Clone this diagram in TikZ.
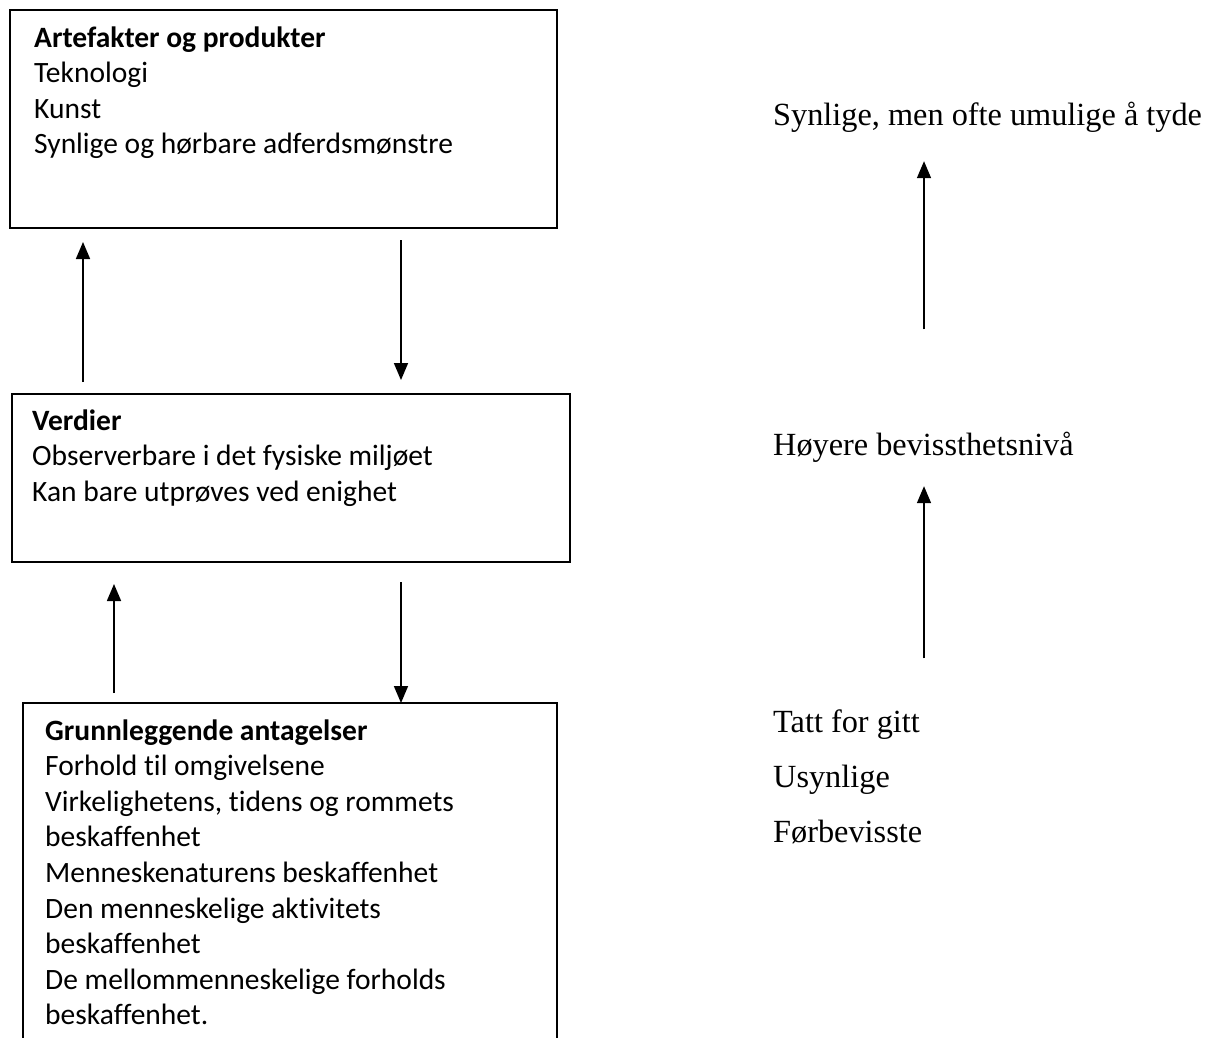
\documentclass[tikz,border=0pt]{standalone}
\usepackage{fontspec}
\setmainfont{Liberation Serif}
\newfontfamily\carlito[Ligatures={NoCommon}]{Carlito}
\usetikzlibrary{arrows.meta,calc}
\tikzset{
  frame/.style={draw, line width=2pt, inner sep=0pt, anchor=north west},
  boxtext/.style={inner sep=0pt, anchor=base west, font=\carlito\fontsize{29.5}{35.6}\selectfont},
  sidetext/.style={inner sep=0pt, anchor=base west, font=\fontsize{32.3}{55}\selectfont},
  arr/.style={line width=1.6pt, -{Triangle[width=14pt,length=17pt]}}
}
\begin{document}
\begin{tikzpicture}[x=1pt,y=-1pt]
\useasboundingbox (0,0) rectangle (1213,1037);
\fill[white] (0,0) rectangle (1213,1037);
\clip (0,0) rectangle (1213,1037);
% boxes
\node[frame, minimum width=547pt, minimum height=218pt] (box1) at (9,9) {};
\node[frame, minimum width=558pt, minimum height=168pt] (box2) at (11,393) {};
\node[inner sep=0pt, anchor=north west, minimum width=534pt, minimum height=400pt] (box3) at (23,703) {};
\draw[line width=2pt] (box3.south west) -- (box3.north west) -- (box3.north east) -- (box3.south east);
% box texts
\node[boxtext] (t1) at (34,47) {\begin{tabular}[t]{@{}l@{}}\textbf{Artefakter og produkter}\\Teknologi\\Kunst\\Synlige og hørbare adferdsmønstre\end{tabular}};
\node[boxtext] (t2) at (32,430) {\begin{tabular}[t]{@{}l@{}}\textbf{Verdier}\\Observerbare i det fysiske miljøet\\Kan bare utprøves ved enighet\end{tabular}};
\node[boxtext] (t3) at (45,740) {\begin{tabular}[t]{@{}l@{}}\textbf{Grunnleggende antagelser}\\Forhold til omgivelsene\\Virkelighetens, tidens og rommets\\beskaffenhet\\Menneskenaturens beskaffenhet\\Den menneskelige aktivitets\\beskaffenhet\\De mellommenneskelige forholds\\beskaffenhet.\end{tabular}};
% left arrows
\draw[arr] ($(box2.north west)+(72,-11)$) -- ($(box1.south west)+(74,13)$);
\draw[arr] ($(box1.south west)+(392,11)$) -- ($(box2.north west)+(390,-13)$);
\draw[arr] ($(box3.north west)+(91,-10)$) -- ($(box2.south west)+(103,21)$);
\draw[arr] ($(box2.south west)+(390,19)$) -- (box3.north west -| {(401,0)});
% right side
\node[sidetext] (r1) at (773,125) {Synlige, men ofte umulige å tyde};
\node[sidetext] (r2) at (773,455) {Høyere bevissthetsnivå};
\node[sidetext] (r3) at (773,732) {\begin{tabular}[t]{@{}l@{}}Tatt for gitt\\Usynlige\\Førbevisste\end{tabular}};
\draw[arr] ($(r2.north west)+(151,-102)$) -- ($(r1.south west)+(151,29)$);
\draw[arr] ($(r3.north west)+(151,-35)$) -- ($(r2.south west)+(151,24)$);
\end{tikzpicture}
\end{document}
